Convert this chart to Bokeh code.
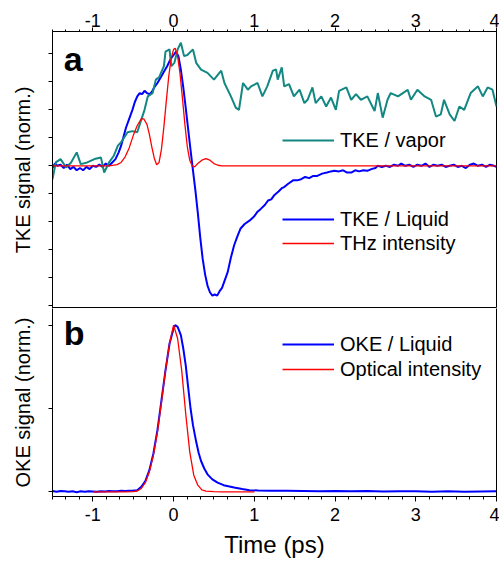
from bokeh.plotting import figure
from bokeh.models import (Range1d, LinearAxis, SingleIntervalTicker, FixedTicker,
                          Legend, LegendItem, Label)
from bokeh.layouts import column
from bokeh.embed import file_html
from bokeh.resources import INLINE

FONT = "Liberation Sans"
TEAL = "#138882"
BLUE = "#0000ff"
RED = "#ff0000"

# ---------------- panel a data ----------------
vapor_t = [-1.50, -1.46, -1.40, -1.33, -1.27, -1.20, -1.15, -1.07, -0.98, -0.90, -0.86, -0.80,
           -0.74, -0.69, -0.65, -0.57, -0.51, -0.45, -0.41, -0.36, -0.32, -0.26, -0.22, -0.18,
           -0.12, -0.10, -0.05, -0.03, 0.01, 0.05, 0.09, 0.13, 0.17, 0.24, 0.28, 0.34, 0.42,
           0.50, 0.59, 0.63, 0.71, 0.77, 0.81, 0.86, 0.92, 0.96, 1.04, 1.10, 1.16, 1.23, 1.27,
           1.29, 1.34, 1.37, 1.43, 1.49, 1.56, 1.62, 1.66, 1.72, 1.76, 1.83, 1.89, 1.95, 2.01,
           2.05, 2.14, 2.20, 2.26, 2.32, 2.40, 2.49, 2.53, 2.59, 2.65, 2.69, 2.78, 2.84, 2.90,
           2.94, 3.02, 3.11, 3.19, 3.25, 3.31, 3.35, 3.42, 3.48, 3.54, 3.60, 3.68, 3.77, 3.83,
           3.89, 3.95, 4.00]
vapor_s = [-0.12, 0.03, 0.06, -0.015, 0.03, 0.12, 0.015, 0.03, 0.06, 0.075, -0.06, 0.03,
           0.09, 0.18, 0.21, 0.30, 0.31, 0.30, 0.39, 0.50, 0.62, 0.65, 0.77, 0.79,
           0.89, 1.02, 1.04, 0.89, 0.92, 1.04, 1.10, 0.98, 0.99, 1.04, 0.92, 0.86, 0.83,
           0.77, 0.85, 0.74, 0.62, 0.52, 0.50, 0.74, 0.68, 0.71, 0.74, 0.62, 0.71, 0.85, 0.86,
           0.77, 0.88, 0.71, 0.73, 0.62, 0.68, 0.56, 0.59, 0.70, 0.56, 0.62, 0.53, 0.61, 0.50,
           0.67, 0.70, 0.59, 0.64, 0.59, 0.62, 0.49, 0.65, 0.43, 0.59, 0.65, 0.62, 0.65, 0.68,
           0.59, 0.68, 0.62, 0.59, 0.44, 0.46, 0.59, 0.46, 0.40, 0.53, 0.50, 0.65, 0.71, 0.62,
           0.70, 0.68, 0.53]

liquid_t = [-1.50, -1.47, -1.44, -1.40, -1.36, -1.32, -1.28, -1.24, -1.20, -1.16, -1.12, -1.08,
            -1.04, -1.00, -0.96, -0.92, -0.88, -0.84, -0.80, -0.76, -0.72, -0.68, -0.65, -0.62,
            -0.59, -0.55, -0.51, -0.48, -0.45, -0.42, -0.39, -0.36, -0.33, -0.30, -0.27, -0.24,
            -0.20, -0.16, -0.12, -0.08, -0.04, 0.00, 0.03, 0.06, 0.09, 0.12, 0.15, 0.18, 0.21,
            0.24, 0.27, 0.30, 0.33, 0.36, 0.39, 0.42, 0.45, 0.48, 0.51, 0.54, 0.57, 0.60, 0.63,
            0.67, 0.71, 0.75, 0.79, 0.83, 0.88, 0.94, 1.00, 1.04, 1.08, 1.13, 1.17, 1.21, 1.25,
            1.30, 1.34, 1.37, 1.42, 1.48, 1.53, 1.58, 1.63, 1.68, 1.73, 1.78, 1.84, 1.90, 1.95,
            1.99, 2.05, 2.10, 2.15, 2.20, 2.25, 2.30, 2.35, 2.40, 2.45, 2.50, 2.53, 2.58, 2.63,
            2.68, 2.73, 2.78, 2.82, 2.87, 2.92, 2.97, 3.02, 3.07, 3.12, 3.17, 3.22, 3.27, 3.32,
            3.37, 3.42, 3.47, 3.52, 3.57, 3.62, 3.67, 3.72, 3.77, 3.82, 3.87, 3.92, 3.97, 4.00]
liquid_s = [-0.02, 0.02, 0.00, 0.01, -0.02, 0.01, -0.03, -0.01, -0.04, -0.02, -0.04, -0.01,
            -0.03, 0.00, -0.01, 0.01, -0.01, 0.02, 0.00, 0.03, 0.06, 0.12, 0.18, 0.26,
            0.34, 0.42, 0.50, 0.57, 0.62, 0.65, 0.64, 0.67, 0.65, 0.64, 0.66, 0.70,
            0.74, 0.79, 0.84, 0.89, 0.95, 0.99, 1.02, 0.98, 0.86, 0.70, 0.52, 0.33, 0.14,
            -0.04, -0.22, -0.42, -0.64, -0.83, -0.97, -1.07, -1.13, -1.16, -1.15, -1.16, -1.12, -1.09, -1.03,
            -0.95, -0.82, -0.71, -0.63, -0.56, -0.52, -0.49, -0.45, -0.41, -0.385, -0.35, -0.31, -0.30, -0.26,
            -0.23, -0.20, -0.19, -0.16, -0.13, -0.13, -0.12, -0.10, -0.11, -0.09, -0.09, -0.07, -0.06, -0.05,
            -0.045, -0.05, -0.04, -0.06, -0.06, -0.04, -0.05, -0.04, -0.045, -0.03, -0.02, 0.00, -0.01, 0.00,
            -0.01, 0.01, 0.00, 0.02, 0.00, 0.01, -0.01, 0.01, 0.00, 0.02, -0.01, 0.01, 0.00, 0.01,
            -0.01, 0.00, 0.01, -0.01, 0.00, -0.02, 0.01, 0.02, 0.00, 0.01, -0.01, 0.01, 0.00, -0.01]

thz_t = [-1.50, -0.80, -0.70, -0.65, -0.60, -0.55, -0.50, -0.45, -0.40, -0.37, -0.33, -0.30,
         -0.27, -0.24, -0.21, -0.18, -0.15, -0.12, -0.09, -0.06, -0.03, 0.00, 0.02, 0.05,
         0.08, 0.11, 0.14, 0.17, 0.20, 0.23, 0.26, 0.30, 0.35, 0.40, 0.45, 0.50, 0.55, 0.60, 4.00]
thz_s = [0.00, 0.00, 0.01, 0.03, 0.08, 0.16, 0.27, 0.36, 0.42, 0.42, 0.37, 0.28,
         0.17, 0.07, 0.01, 0.03, 0.15, 0.35, 0.58, 0.80, 0.96, 1.04, 1.05, 0.98,
         0.82, 0.60, 0.37, 0.17, 0.05, 0.00, -0.01, 0.02, 0.05, 0.065, 0.05, 0.02, 0.005, 0.00, 0.00]

# ---------------- panel b data ----------------
oke_t = [-1.50, -1.45, -1.40, -1.35, -1.30, -1.25, -1.20, -1.15, -1.10, -1.05, -1.00, -0.95,
         -0.90, -0.85, -0.80, -0.75, -0.70, -0.65, -0.60, -0.55, -0.50, -0.45, -0.40, -0.35,
         -0.30, -0.25, -0.20, -0.15, -0.10, -0.05, 0.00, 0.02, 0.05, 0.09, 0.12, 0.15, 0.18,
         0.21, 0.24, 0.28, 0.31, 0.34, 0.38, 0.42, 0.48, 0.545, 0.62, 0.75, 0.85, 0.94, 1.05,
         1.20, 1.40, 1.60, 1.80, 2.00, 2.20, 2.40, 2.60, 2.80, 3.00, 3.20, 3.40, 3.60, 3.80, 4.00]
oke_s = [0.005, 0.000, 0.005, 0.003, 0.000, 0.004, -0.002, 0.003, 0.000, 0.004, 0.002, 0.000,
         0.004, 0.002, 0.005, 0.003, 0.004, 0.006, 0.005, 0.007, 0.008, 0.010, 0.030, 0.065,
         0.13, 0.23, 0.37, 0.55, 0.73, 0.89, 0.98, 1.00, 0.99, 0.94, 0.86, 0.76, 0.63,
         0.50, 0.40, 0.30, 0.235, 0.185, 0.14, 0.105, 0.075, 0.055, 0.040, 0.026, 0.017, 0.010, 0.008,
         0.007, 0.006, 0.005, 0.004, 0.005, 0.003, 0.005, 0.002, 0.004, 0.003, 0.001, 0.003, 0.000, 0.002, 0.003]

opt_t = [-1.00, -0.80, -0.60, -0.50, -0.45, -0.40, -0.35, -0.30, -0.25, -0.20, -0.15, -0.10,
         -0.05, 0.00, 0.05, 0.10, 0.15, 0.20, 0.25, 0.30, 0.35, 0.40, 0.50, 0.60, 1.00]
opt_s = [0.000, 0.000, 0.000, 0.001, 0.005, 0.020, 0.055, 0.12, 0.22, 0.36, 0.54, 0.73,
         0.89, 1.00, 0.92, 0.73, 0.47, 0.24, 0.10, 0.04, 0.012, 0.004, 0.001, 0.000, 0.000]

x_ticks_major = 1
x_label_overrides = {-1: "-1"}
a_yticks = [-1.25, -1.0, -0.75, -0.5, -0.25, 0.0, 0.25, 0.5, 0.75, 1.0]
b_yticks = [0.0, 0.5, 1.0]


def style_common(p):
    p.grid.visible = False
    p.background_fill_color = "white"
    p.border_fill_color = "white"


def style_yaxis(ax, label):
    ax.major_tick_out = 4
    ax.major_tick_in = 0
    ax.minor_tick_out = 0
    ax.minor_tick_in = 0
    ax.major_label_text_color = None
    ax.major_label_standoff = 0
    ax.axis_label = label
    ax.axis_label_text_font = FONT
    ax.axis_label_text_font_size = "20px"
    ax.axis_label_text_font_style = "normal"
    ax.axis_label_text_color = "black"
    ax.axis_label_standoff = 15
    ax.axis_line_color = "black"
    ax.major_tick_line_color = "black"


# ---------------- top figure ----------------
p1 = figure(frame_width=444, frame_height=277, min_border=0, min_border_left=52,
            min_border_right=3, min_border_top=31,
            x_range=Range1d(-1.5, 4), y_range=Range1d(-1.275, 1.2),
            x_axis_location="above", output_backend="svg", toolbar_location=None)
style_common(p1)
p1.outline_line_color = "black"
p1.outline_line_alpha = 1
p1.outline_line_width = 1

xa = p1.xaxis[0]
xa.ticker = SingleIntervalTicker(interval=x_ticks_major, num_minor_ticks=6)
xa.major_label_overrides = x_label_overrides
xa.major_tick_out = 4
xa.major_tick_in = 0
xa.minor_tick_out = 2
xa.minor_tick_in = 0
xa.major_label_text_font = FONT
xa.major_label_text_font_size = "18px"
xa.major_label_text_color = "black"
xa.major_label_standoff = 1
xa.axis_line_color = "black"
xa.major_tick_line_color = "black"
xa.minor_tick_line_color = "black"

ya = p1.yaxis[0]
ya.ticker = FixedTicker(ticks=a_yticks, minor_ticks=[])
style_yaxis(ya, "TKE signal (norm.)")

r_liq = p1.line(liquid_t, liquid_s, line_color=BLUE, line_width=2)
r_vap = p1.line(vapor_t, vapor_s, line_color=TEAL, line_width=2)
r_thz = p1.line(thz_t, thz_s, line_color=RED, line_width=1.3)

leg_kw = dict(label_text_font=FONT, label_text_font_size="20px", label_text_color="black",
              glyph_width=52, glyph_height=24, label_height=24, label_standoff=6,
              padding=0, margin=0, border_line_color=None, background_fill_alpha=0)
leg1 = Legend(items=[LegendItem(label="TKE / vapor", renderers=[r_vap])],
              location=(230, 156), spacing=0, **leg_kw)
leg2 = Legend(items=[LegendItem(label="TKE / Liquid", renderers=[r_liq]),
                     LegendItem(label="THz intensity", renderers=[r_thz])],
              location=(230, 53), spacing=0, **leg_kw)
p1.add_layout(leg1)
p1.add_layout(leg2)

p1.add_layout(Label(x=-1.36, y=0.95, text="a", text_font=FONT, text_font_size="34px",
                    text_font_style="bold", text_color="black", text_baseline="alphabetic"))

# ---------------- bottom figure ----------------
p2 = figure(frame_width=444, frame_height=188, min_border=0, min_border_left=52,
            min_border_right=3, x_range=p1.x_range, y_range=Range1d(-0.028, 1.1),
            output_backend="svg", toolbar_location=None)
style_common(p2)
p2.outline_line_color = None

xb = p2.xaxis[0]
xb.ticker = SingleIntervalTicker(interval=x_ticks_major, num_minor_ticks=6)
xb.major_label_overrides = x_label_overrides
xb.major_tick_out = 5
xb.major_tick_in = 0
xb.minor_tick_out = 3
xb.minor_tick_in = 0
xb.major_label_text_font = FONT
xb.major_label_text_font_size = "18px"
xb.major_label_text_color = "black"
xb.major_label_standoff = 6
xb.axis_label = "Time (ps)"
xb.axis_label_text_font = FONT
xb.axis_label_text_font_size = "24px"
xb.axis_label_text_font_style = "normal"
xb.axis_label_text_color = "black"
xb.axis_label_standoff = 7
xb.axis_line_color = "black"

yb = p2.yaxis[0]
yb.ticker = FixedTicker(ticks=b_yticks, minor_ticks=[])
style_yaxis(yb, "OKE signal (norm.)")

right_ax = LinearAxis(major_tick_out=0, major_tick_in=0, minor_tick_out=0, minor_tick_in=0,
                      major_label_text_color=None, major_label_standoff=0,
                      axis_line_color="black")
p2.add_layout(right_ax, "right")

r_oke = p2.line(oke_t, oke_s, line_color=BLUE, line_width=2)
r_opt = p2.line(opt_t, opt_s, line_color=RED, line_width=1.3)

leg3 = Legend(items=[LegendItem(label="OKE / Liquid", renderers=[r_oke]),
                     LegendItem(label="Optical intensity", renderers=[r_opt])],
              location=(230, 115), spacing=1, **leg_kw)
p2.add_layout(leg3)

p2.add_layout(Label(x=-1.36, y=0.952, text="b", text_font=FONT, text_font_size="34px",
                    text_font_style="bold", text_color="black", text_baseline="alphabetic"))

layout = column(p1, p2, spacing=0)
open("out.html", "w").write(file_html(layout, INLINE))
